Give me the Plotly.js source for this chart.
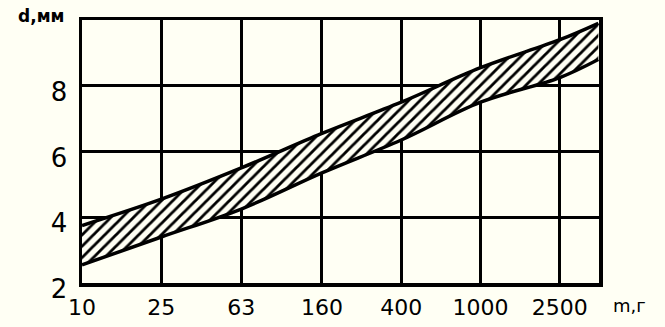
<!DOCTYPE html>
<html>
<head>
<meta charset="utf-8">
<script src="https://cdn.plot.ly/plotly-3.0.1.min.js"></script>
<style>
html,body{margin:0;padding:0;background:#fffff4;}
#chart{width:665px;height:327px;}
</style>
</head>
<body>
<div id="chart"></div>
<script>
// Mass (m, g) on a log scale — tick positions
const massTicks = [10, 25, 63, 160, 400, 1000, 2500];
const massTickLabels = ['10', '25', '63', '160', '400', '1000', '2500'];
// Band boundary sample points (m, g)
const massPoints = [10, 25, 63, 160, 400, 1000, 2500, 3900];
// Upper boundary of diameter d, mm
const dUpper = [3.75, 4.55, 5.5, 6.55, 7.5, 8.55, 9.4, 9.9];
// Lower boundary of diameter d, mm
const dLower = [2.55, 3.4, 4.25, 5.35, 6.35, 7.5, 8.25, 8.8];
const yTicks = [2, 4, 6, 8];

const bg = '#fffff4';
const traces = [
  {
    x: massPoints, y: dLower, type: 'scatter', mode: 'lines',
    line: {color: '#000', width: 3.5, shape: 'spline', smoothing: 1},
    hoverinfo: 'skip', showlegend: false
  },
  {
    x: massPoints, y: dUpper, type: 'scatter', mode: 'lines',
    line: {color: '#000', width: 3.5, shape: 'spline', smoothing: 1},
    fill: 'tonexty',
    fillcolor: bg,
    fillpattern: {shape: '/', fgcolor: '#000', bgcolor: bg, size: 8, solidity: 0.35},
    hoverinfo: 'skip', showlegend: false
  }
];

const layout = {
  width: 665, height: 327,
  margin: {l: 82, r: 66, t: 20, b: 44},
  paper_bgcolor: bg, plot_bgcolor: bg,
  font: {family: 'DejaVu Sans', color: '#000'},
  xaxis: {
    type: 'log', range: [1, Math.log10(3930)],
    tickmode: 'array', tickvals: massTicks, ticktext: massTickLabels,
    showgrid: true, gridcolor: '#000', gridwidth: 3,
    showline: true, linecolor: '#000', linewidth: 3.5, mirror: true,
    ticks: '', zeroline: false,
    tickfont: {family: 'DejaVu Sans', size: 22, color: '#000'},
    ticklabelstandoff: 2
  },
  yaxis: {
    range: [2, 10],
    tickmode: 'array', tickvals: yTicks,
    showgrid: true, gridcolor: '#000', gridwidth: 3,
    showline: true, linecolor: '#000', linewidth: 3.5, mirror: true,
    ticks: '', zeroline: false,
    tickfont: {family: 'DejaVu Sans', size: 26, color: '#000'},
    ticklabelstandoff: 6, ticklabelshift: 6
  },
  annotations: [
    {text: '<b>d,мм</b>', xref: 'paper', yref: 'paper', x: -0.127, y: 1.0,
     xanchor: 'left', yanchor: 'middle', yshift: 4, showarrow: false,
     font: {family: 'DejaVu Sans', size: 17, color: '#000'}},
    {text: 'm,г', xref: 'paper', yref: 'paper', x: 1.0, y: 0,
     xanchor: 'left', yanchor: 'top', xshift: 12, yshift: -10, showarrow: false,
     font: {family: 'DejaVu Sans', size: 18, color: '#000'}}
  ]
};

Plotly.newPlot('chart', traces, layout, {displayModeBar: false, staticPlot: true});
</script>
</body>
</html>
